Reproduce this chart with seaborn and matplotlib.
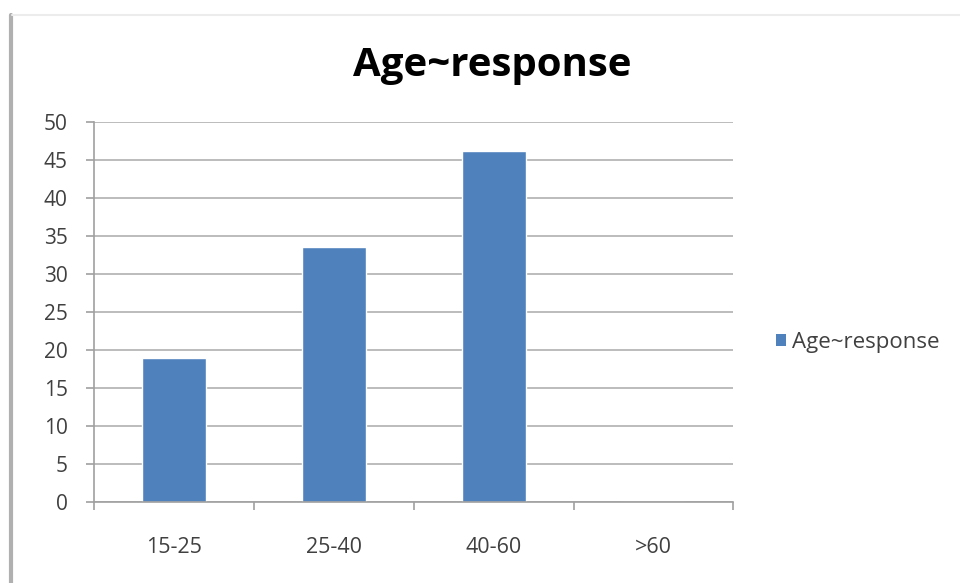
import matplotlib
matplotlib.use("Agg")
import matplotlib.pyplot as plt
from matplotlib.lines import Line2D
from matplotlib.patches import Patch
import seaborn as sns
import pandas as pd

age_groups = ["15-25", "25-40", "40-60", ">60"]
responses = [19, 33.5, 46.1, 0]
series_name = "Age~response"
y_ticks = [0, 5, 10, 15, 20, 25, 30, 35, 40, 45, 50]

df = pd.DataFrame({"age": age_groups, "response": responses})

sns.set_theme(style="white")
plt.rcParams["font.family"] = ["Open Sans", "DejaVu Sans"]

fig = plt.figure(figsize=(9.6, 5.83), dpi=100)
ax = fig.add_axes([0.098, 0.139, 0.666, 0.652])

bar_color = "#4F81BD"
sns.barplot(data=df, x="age", y="response", color=bar_color, width=0.4,
            saturation=1, ax=ax)

ax.set_xlim(-0.5, len(age_groups) - 0.5)
ax.set_ylim(0, 50)
ax.set_yticks(y_ticks)
ax.set_xlabel("")
ax.set_ylabel("")

grid_col = "#b0b0b0"
ax.yaxis.grid(True, color=grid_col, linewidth=1.2)
ax.set_axisbelow(True)
for s in ["top", "right"]:
    ax.spines[s].set_visible(False)
for s in ["left", "bottom"]:
    ax.spines[s].set_color("#a0a0a0")
    ax.spines[s].set_linewidth(1.2)

# tick marks sit on category boundaries, labels at category centres
ax.set_xticks([i - 0.5 for i in range(len(age_groups) + 1)], minor=True)
ax.tick_params(axis="x", which="minor", length=6, color="#a0a0a0", width=1.2,
               direction="out", bottom=True)
ax.tick_params(axis="x", which="major", length=0, pad=25, labelsize=15.5,
               labelcolor="#404040")
ax.tick_params(axis="y", length=6, color="#a0a0a0", width=1.2, left=True,
               direction="out", pad=13, labelsize=15, labelcolor="#404040")

fig.text(0.513, 0.888, series_name, ha="center", va="center",
         fontsize=29, fontweight="bold", color="#000000")

handle = Patch(facecolor=bar_color, edgecolor="none")
fig.legend([handle], [series_name], loc="center left",
           bbox_to_anchor=(0.787, 0.413), frameon=False, fontsize=16,
           handlelength=0.45, handleheight=0.45, handletextpad=0.3,
           labelcolor="#404040")

# chart frame edges
fig.add_artist(Line2D([0.011, 0.011], [0.0, 0.975], color="#b0b0b0",
                      linewidth=3, transform=fig.transFigure))
fig.add_artist(Line2D([0.013, 1.0], [0.975, 0.975], color="#ececec",
                      linewidth=1.5, transform=fig.transFigure))

fig.savefig("out.png", dpi=100)
